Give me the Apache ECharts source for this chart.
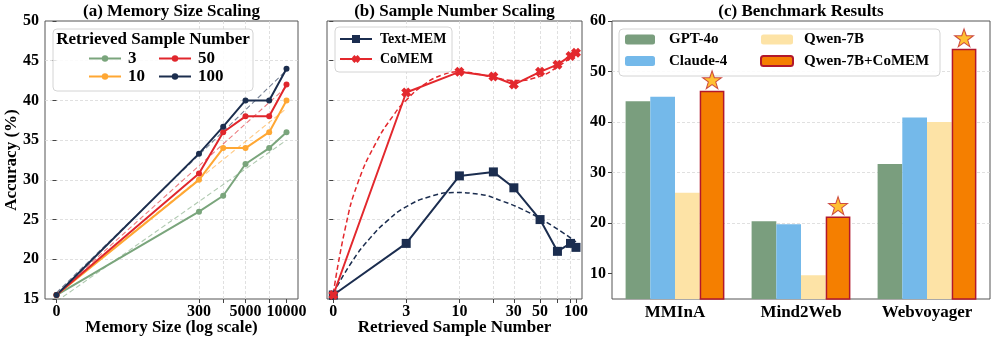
<!DOCTYPE html>
<html><head><meta charset="utf-8">
<script src="https://cdn.jsdelivr.net/npm/echarts@6/dist/echarts.min.js"></script>
<style>html,body{margin:0;padding:0;background:#fff}#c{width:997px;height:342px}</style>
</head><body><div id="c"></div>
<script>
// ---------- (a) Memory Size Scaling ----------
const memoryTickLabels = ['0', '300', '', '5000', '', '10000'];
const memoryLogPos = [0, 2.478, 2.899, 3.287, 3.699, 4.0];   // positions on the log-scale axis
const accK3   = [15.5, 26.0, 28.0, 32.0, 34.0, 36.0];
const accK10  = [15.5, 30.0, 34.0, 34.0, 36.0, 40.0];
const accK50  = [15.5, 30.8, 36.0, 38.0, 38.0, 42.0];
const accK100 = [15.5, 33.3, 36.7, 40.0, 40.0, 44.0];
// dashed trend lines (value at first / last memory position)
const trendK3   = [14.7, 35.0];
const trendK10  = [15.6, 39.0];
const trendK50  = [15.6, 41.7];
const trendK100 = [15.8, 43.8];

// ---------- (b) Sample Number Scaling ----------
const sampleNumbers = [0, 3, 10, 20, 30, 50, 70, 90, 100];
const sampleTickLabels = [0, 3, 10, 30, 50, 100];
const textMemAcc = [15.5, 22.0, 30.5, 31.0, 29.0, 25.0, 21.0, 22.0, 21.5];
const coMemAcc   = [15.5, 41.0, 43.6, 43.0, 42.0, 43.6, 44.5, 45.6, 46.0];
// dashed fitted curves (position on log axis, value)
const textMemFitPos = [0, 0.15, 0.3, 0.45, 0.6, 0.8, 1.0, 1.2, 1.4, 1.6, 1.8, 2.004];
const textMemFitVal = [15.7, 19.6, 22.6, 24.9, 26.6, 27.9, 28.4, 28.2, 27.3, 26.0, 24.3, 22.2];
const coMemFitPos = [0, 0.1, 0.2, 0.35, 0.5, 0.6, 0.75, 0.9, 1.05, 1.2, 1.35, 1.5, 1.7, 1.85, 2.004];
const coMemFitVal = [15.7, 24.0, 29.5, 34.6, 38.2, 40.0, 42.0, 43.2, 43.6, 43.3, 42.8, 42.5, 43.0, 44.2, 45.9];

// ---------- (c) Benchmark Results ----------
const benchmarks = ['MMInA', 'Mind2Web', 'Webvoyager'];
const gpt4o      = [44.1, 20.4, 31.7];
const claude4    = [45.0, 19.8, 40.9];
const qwen7b     = [26.0, 9.7, 40.0];
const qwen7bCoMem = [46.2, 21.3, 54.5];
const benchTicks = [10, 20, 30, 40, 50, 60];

// ---------- styling ----------
const FONT = "'Liberation Serif', 'Times New Roman', serif";
const C = { k3: '#7aa57c', k10: '#ffa733', k50: '#e0262c', k100: '#1c2e4e',
            text: '#1b2d4f', co: '#e3282d',
            gpt: '#7a9e7e', claude: '#74b9ea', qwen: '#fde3a6', comem: '#f57f00', comemEdge: '#b2182b',
            star: '#ffb000', starEdge: '#c0282a' };
const log1p10 = n => Math.log10(n + 1);
const BAR_W = 24.7;
const STAR = 'path://M50,0 L61.8,35.1 L98.1,35.1 L68.8,56.7 L79.4,91 L50,70 L20.6,91 L31.2,56.7 L1.9,35.1 L38.2,35.1 Z';
const XMARK = 'path://M0,30 L30,0 L50,20 L70,0 L100,30 L80,50 L100,70 L70,100 L50,80 L30,100 L0,70 L20,50 Z';

const tickLabel = { fontFamily: FONT, fontWeight: 'bold', fontSize: 16, color: '#000' };
const gridLine = { show: true, lineStyle: { color: '#d8d8d8', type: [3, 2], width: 0.8 }, showMinLine: false, showMaxLine: false };
const tickStyle = { show: true, inside: false, length: 4, lineStyle: { color: '#444', width: 1 } };

const memPosLabeled = memoryLogPos.filter((p, i) => memoryTickLabels[i] !== '');
const samplePos = sampleNumbers.map(log1p10);
const samplePosLabeled = sampleTickLabels.map(log1p10);

function lineSeries(name, xs, ys, color, xi, extra) {
  return Object.assign({
    name, type: 'line', xAxisIndex: xi, yAxisIndex: xi,
    data: xs.map((x, i) => [x, ys[i]]),
    lineStyle: { color, width: 2 }, itemStyle: { color }, symbol: 'circle', symbolSize: 6,
    z: 3, animation: false
  }, extra || {});
}
function trendSeries(name, xs, ys, color, xi, opacity, width, smooth) {
  return {
    name, type: 'line', xAxisIndex: xi, yAxisIndex: xi, smooth: smooth || false,
    data: xs.map((x, i) => [x, ys[i]]), symbol: 'none',
    lineStyle: { color, width, type: [5, 3], opacity }, z: 2, animation: false, silent: true
  };
}
const first = memoryLogPos[0], last = memoryLogPos[memoryLogPos.length - 1];
const legendText = (size, padLeft) => ({ fontFamily: FONT, fontWeight: 'bold', fontSize: size, color: '#000', padding: [0, 0, 0, padLeft] });

const option = {
  animation: false,
  grid: [
    { left: 45, top: 21, width: 253, height: 278, show: true, borderColor: '#555', borderWidth: 1, backgroundColor: 'transparent' },
    { left: 327, top: 21, width: 255, height: 278, show: true, borderColor: '#555', borderWidth: 1, backgroundColor: 'transparent' },
    { left: 612, top: 21, width: 378, height: 278, show: true, borderColor: '#555', borderWidth: 1, backgroundColor: 'transparent' }
  ],
  xAxis: [
    { type: 'value', gridIndex: 0, min: -0.2, max: 4.2,
      axisLine: { show: false },
      axisTick: Object.assign({}, tickStyle, { customValues: memoryLogPos }),
      axisLabel: Object.assign({}, tickLabel, { margin: 5, customValues: memPosLabeled,
        formatter: v => { const i = memoryLogPos.findIndex(p => Math.abs(p - v) < 1e-6); return i >= 0 ? memoryTickLabels[i] : ''; } }),
      splitLine: gridLine },
    { type: 'value', gridIndex: 1, min: -0.052, max: 2.054,
      axisLine: { show: false },
      axisTick: Object.assign({}, tickStyle, { customValues: samplePos }),
      axisLabel: Object.assign({}, tickLabel, { margin: 5, customValues: samplePosLabeled,
        formatter: v => { const i = samplePosLabeled.findIndex(p => Math.abs(p - v) < 1e-6); return i >= 0 ? String(sampleTickLabels[i]) : ''; } }),
      splitLine: gridLine },
    { type: 'category', gridIndex: 2, data: benchmarks,
      axisLine: { show: false }, axisTick: { show: false },
      axisLabel: Object.assign({}, tickLabel, { fontSize: 17, margin: 5 }),
      splitLine: { show: false } }
  ],
  yAxis: [
    { type: 'value', gridIndex: 0, min: 15, max: 50, interval: 5,
      axisLine: { show: false }, axisTick: tickStyle,
      axisLabel: Object.assign({}, tickLabel, { margin: 6 }), splitLine: gridLine },
    { type: 'value', gridIndex: 1, min: 15, max: 50, interval: 5,
      axisLine: { show: false }, axisTick: tickStyle,
      axisLabel: { show: false }, splitLine: gridLine },
    { type: 'value', gridIndex: 2, min: 5, max: 60,
      axisLine: { show: false },
      axisTick: Object.assign({}, tickStyle, { customValues: benchTicks }),
      axisLabel: Object.assign({}, tickLabel, { margin: 6, customValues: benchTicks }),
      splitLine: gridLine }
  ],
  legend: [
    { data: ['3', '10'], orient: 'vertical', left: 88, top: 50, padding: 0, itemWidth: 32, itemHeight: 8, itemGap: 1, z: 10, selectedMode: false,
      textStyle: legendText(17, 2) },
    { data: ['50', '100'], orient: 'vertical', left: 158, top: 50, padding: 0, itemWidth: 32, itemHeight: 8, itemGap: 1, z: 10, selectedMode: false,
      textStyle: legendText(17, 2) },
    { data: ['Text-MEM', 'CoMEM'], orient: 'vertical', left: 339, top: 32, padding: 0, itemWidth: 32, itemHeight: 10, itemGap: 6, z: 10, selectedMode: false,
      textStyle: legendText(14, 3) },
    { data: ['GPT-4o', 'Claude-4'], orient: 'vertical', left: 625, top: 32, padding: 0, itemWidth: 30, itemHeight: 10, itemGap: 6.5, z: 10, selectedMode: false,
      textStyle: legendText(15, 9) },
    { data: ['Qwen-7B', 'Qwen-7B+CoMEM'], orient: 'vertical', left: 760, top: 32, padding: 0, itemWidth: 32, itemHeight: 10, itemGap: 6.5, z: 10, selectedMode: false,
      textStyle: legendText(15, 6) }
  ],
  graphic: { elements: [
    { type: 'rect', z: 5, shape: { x: 53, y: 29, width: 200, height: 62, r: 4 }, style: { fill: 'rgba(255,255,255,0.85)', stroke: '#d4d4d4', lineWidth: 1 } },
    { type: 'rect', z: 5, shape: { x: 335, y: 27, width: 117, height: 45, r: 4 }, style: { fill: 'rgba(255,255,255,0.85)', stroke: '#d4d4d4', lineWidth: 1 } },
    { type: 'rect', z: 5, shape: { x: 619, y: 29, width: 321, height: 47, r: 4 }, style: { fill: 'rgba(255,255,255,0.85)', stroke: '#d4d4d4', lineWidth: 1 } },
    { type: 'text', z: 10, x: 153, y: 40, style: { text: 'Retrieved Sample Number', font: "bold 17px " + FONT, fill: '#000', textAlign: 'center', textVerticalAlign: 'middle' } },
    { type: 'text', z: 10, x: 171.5, y: 11.5, style: { text: '(a) Memory Size Scaling', font: "bold 17px " + FONT, fill: '#000', textAlign: 'center', textVerticalAlign: 'middle' } },
    { type: 'text', z: 10, x: 454.5, y: 11.5, style: { text: '(b) Sample Number Scaling', font: "bold 17px " + FONT, fill: '#000', textAlign: 'center', textVerticalAlign: 'middle' } },
    { type: 'text', z: 10, x: 801, y: 11.5, style: { text: '(c) Benchmark Results', font: "bold 17px " + FONT, fill: '#000', textAlign: 'center', textVerticalAlign: 'middle' } },
    { type: 'text', z: 10, x: 171.5, y: 328, style: { text: 'Memory Size (log scale)', font: "bold 17px " + FONT, fill: '#000', textAlign: 'center', textVerticalAlign: 'middle' } },
    { type: 'text', z: 10, x: 454.5, y: 328, style: { text: 'Retrieved Sample Number', font: "bold 17px " + FONT, fill: '#000', textAlign: 'center', textVerticalAlign: 'middle' } },
    { type: 'text', z: 10, x: 12, y: 160, rotation: Math.PI / 2, style: { text: 'Accuracy (%)', font: "bold 17px " + FONT, fill: '#000', textAlign: 'center', textVerticalAlign: 'middle' } }
  ] },
  series: [
    trendSeries('fit3', [first, last], trendK3, C.k3, 0, 0.6, 1.1),
    trendSeries('fit10', [first, last], trendK10, C.k10, 0, 0.6, 1.1),
    trendSeries('fit50', [first, last], trendK50, C.k50, 0, 0.6, 1.1),
    trendSeries('fit100', [first, last], trendK100, C.k100, 0, 0.6, 1.1),
    lineSeries('3', memoryLogPos, accK3, C.k3, 0),
    lineSeries('10', memoryLogPos, accK10, C.k10, 0),
    lineSeries('50', memoryLogPos, accK50, C.k50, 0),
    lineSeries('100', memoryLogPos, accK100, C.k100, 0),

    trendSeries('fitText', textMemFitPos, textMemFitVal, C.text, 1, 1, 1.5, true),
    trendSeries('fitCo', coMemFitPos, coMemFitVal, C.co, 1, 1, 1.5, true),
    lineSeries('Text-MEM', samplePos, textMemAcc, C.text, 1, { symbol: 'rect', symbolSize: 9 }),
    lineSeries('CoMEM', samplePos, coMemAcc, C.co, 1, { symbol: XMARK, symbolSize: 10 }),

    { name: 'GPT-4o', type: 'bar', xAxisIndex: 2, yAxisIndex: 2, data: gpt4o, barWidth: BAR_W, barGap: '0%', itemStyle: { color: C.gpt } },
    { name: 'Claude-4', type: 'bar', xAxisIndex: 2, yAxisIndex: 2, data: claude4, barWidth: BAR_W, barGap: '0%', itemStyle: { color: C.claude } },
    { name: 'Qwen-7B', type: 'bar', xAxisIndex: 2, yAxisIndex: 2, data: qwen7b, barWidth: BAR_W, barGap: '0%', itemStyle: { color: C.qwen } },
    { name: 'Qwen-7B+CoMEM', type: 'bar', xAxisIndex: 2, yAxisIndex: 2, data: qwen7bCoMem, barWidth: BAR_W, barGap: '0%',
      itemStyle: { color: C.comem, borderColor: C.comemEdge, borderWidth: 1.5 } },
    { name: 'stars', type: 'scatter', xAxisIndex: 2, yAxisIndex: 2, data: qwen7bCoMem, symbol: STAR, symbolSize: [19, 18],
      symbolOffset: [1.5 * BAR_W, -11], itemStyle: { color: C.star, borderColor: C.starEdge, borderWidth: 1 }, z: 5, silent: true }
  ]
};
const chart = echarts.init(document.getElementById('c'), null, { renderer: 'canvas' });
chart.setOption(option);
</script>
</body></html>
